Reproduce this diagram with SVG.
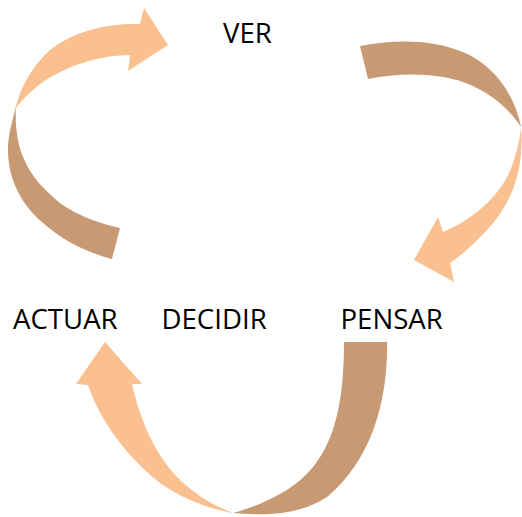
<svg xmlns="http://www.w3.org/2000/svg" width="522" height="517" viewBox="0 0 522 517">
<style>
.lt{fill:#FAC090}
.dk{fill:#C89A73}
.lbl{font-family:"Open Sans","Noto Sans","Liberation Sans",sans-serif;font-size:27.6px;fill:#000}
</style>
<rect width="522" height="517" fill="#fff"/>
<g id="connectors">
<g id="arrow-actuar-ver">
<path class="dk" d="M16,107 C12,122 8,135 8,150 C8,180 22,205 43,223 C62,240 85,252 112,259 L120,228 C98,223 76,215 60,203 C44,190 30,175 23,157 C17,142 15,125 16,107 Z"/>
<path class="lt" d="M15,110 C20,88 32,66 50,50 C75,30 110,23 140,24 L144,8 L168,45 L128,71 L130,55 C95,55 55,70 33,90 C26,96 19,103 15,110 Z"/>
</g>
<g id="arrow-ver-pensar">
<path class="dk" d="M360,46 C390,40 430,38 463,52 C492,64 514,92 521,127 C507,105 480,83 443,77 C418,73 393,74 368,79 Z"/>
<path class="lt" d="M521,127 C524,165 515,200 487,230 C476,242 463,254 450,263 L454,282 L414,260 L438,217 L443,232 C472,220 503,195 513,163 C518,148 520,137 521,127 Z"/>
</g>
<g id="arrow-pensar-actuar">
<path class="dk" d="M344,342 L387,342 C388,400 372,460 327,497 C300,515 265,516 233,513 C262,505 295,490 313,467 C335,440 344,400 344,342 Z"/>
<path class="lt" d="M233,513 C205,508 180,497 160,483 C125,455 100,420 88,385 L76,384 L105,342 L142,384 L132,384 C140,420 155,455 180,480 C197,496 215,506 233,513 Z"/>
</g>
</g>
<g id="node-ver"><text class="lbl" x="223" y="43">VER</text></g>
<g id="node-pensar"><text class="lbl" x="340.5" y="329">PENSAR</text></g>
<g id="node-decidir"><text class="lbl" x="161.5" y="329">DECIDIR</text></g>
<g id="node-actuar"><text class="lbl" x="13" y="329">ACTUAR</text></g>
</svg>
